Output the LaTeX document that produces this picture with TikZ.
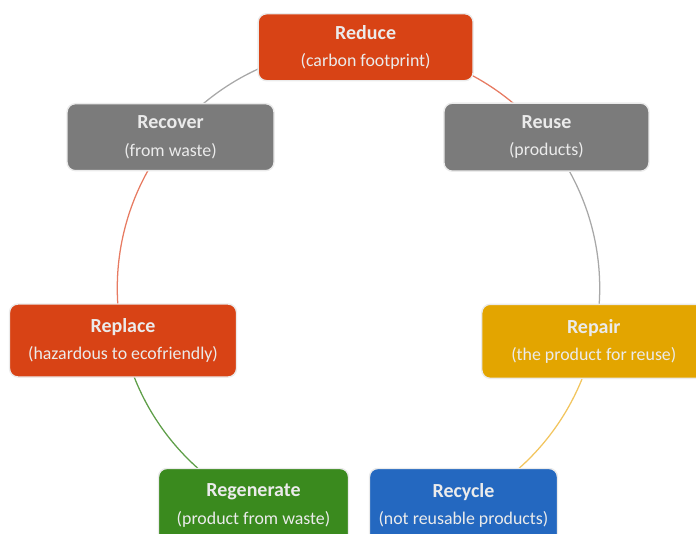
\documentclass[tikz,border=0pt]{standalone}
\usepackage{fontspec}
\setmainfont{Carlito}
\usepackage{tikz}
\usetikzlibrary{backgrounds}
\definecolor{reducered}{HTML}{D84315}
\definecolor{stepgray}{HTML}{7B7B7B}
\definecolor{repairgold}{HTML}{E3A500}
\definecolor{regengreen}{HTML}{3A8A1E}
\definecolor{recycleblue}{HTML}{2468C0}
\definecolor{arcred}{HTML}{E77B62}
\definecolor{arcgray}{HTML}{A8A8A8}
\definecolor{arcgreen}{HTML}{5E9E48}
\definecolor{arcgold}{HTML}{F2C55E}
\newcommand{\phasetitle}[1]{{\fontsize{14.2}{19.5}\selectfont\bfseries #1}}
\tikzset{
  phase/.style={draw=black!8, line width=1pt, rounded corners=6pt, fill=#1,
    text=white!92!black, align=center, font=\fontsize{12.7}{19.5}\selectfont,
    minimum height=1.85cm},
  link/.style={draw=#1, line width=0.9pt, looseness=0.9}
}

\begin{document}
\begin{tikzpicture}
  \useasboundingbox (-8.9625,-6.1175) rectangle (8.4375,7.2075);
  \clip (-8.9625,-6.1175) rectangle (8.4375,7.2075);

  % Stationen auf dem Kreis
  \node[phase=reducered, minimum width=5.375cm, minimum height=1.675cm] (reduce) at (88.3:6.03)
    {\phasetitle{Reduce}\\(carbon footprint)};
  \node[phase=stepgray, minimum width=5.175cm, minimum height=1.675cm] (recover) at (141.2:6.03)
    {\phasetitle{Recover}\\(from waste)};
  \node[phase=stepgray, minimum width=5.125cm, minimum height=1.7cm] (reuse) at (38.8:6.03)
    {\phasetitle{Reuse}\\(products)};
  \node[phase=reducered, minimum width=5.675cm, minimum height=1.825cm] (replace) at (192.5:6.03)
    {\phasetitle{Replace}\\(hazardous to ecofriendly)};
  \node[phase=repairgold, minimum width=5.6cm] (repair) at (347.3:6.03)
    {\phasetitle{Repair}\\(the product for reuse)};
  \node[phase=regengreen, minimum width=4.75cm] (regenerate) at (244.2:6.03)
    {\phasetitle{Regenerate}\\(product from waste)};
  \node[phase=recycleblue, minimum width=4.7cm] (recycle) at (295.8:6.03)
    {\phasetitle{Recycle}\\(not reusable products)};

  % Boegen hinter den Kaesten
  \begin{scope}[on background layer]
    \draw[link=arcgray] (reduce.center) to[bend right=26.45] (recover.center);
    \draw[link=arcred] (recover.center) to[bend right=25.65] (replace.center);
    \draw[link=arcgreen] (replace.center) to[bend right=25.85] (regenerate.center);
    \draw[link=arcgold] (recycle.center) to[bend right=25.75] (repair.center);
    \draw[link=arcgray] (repair.center) to[bend right=25.75] (reuse.center);
    \draw[link=arcred] (reuse.center) to[bend right=24.75] (reduce.center);
  \end{scope}
\end{tikzpicture}
\end{document}
